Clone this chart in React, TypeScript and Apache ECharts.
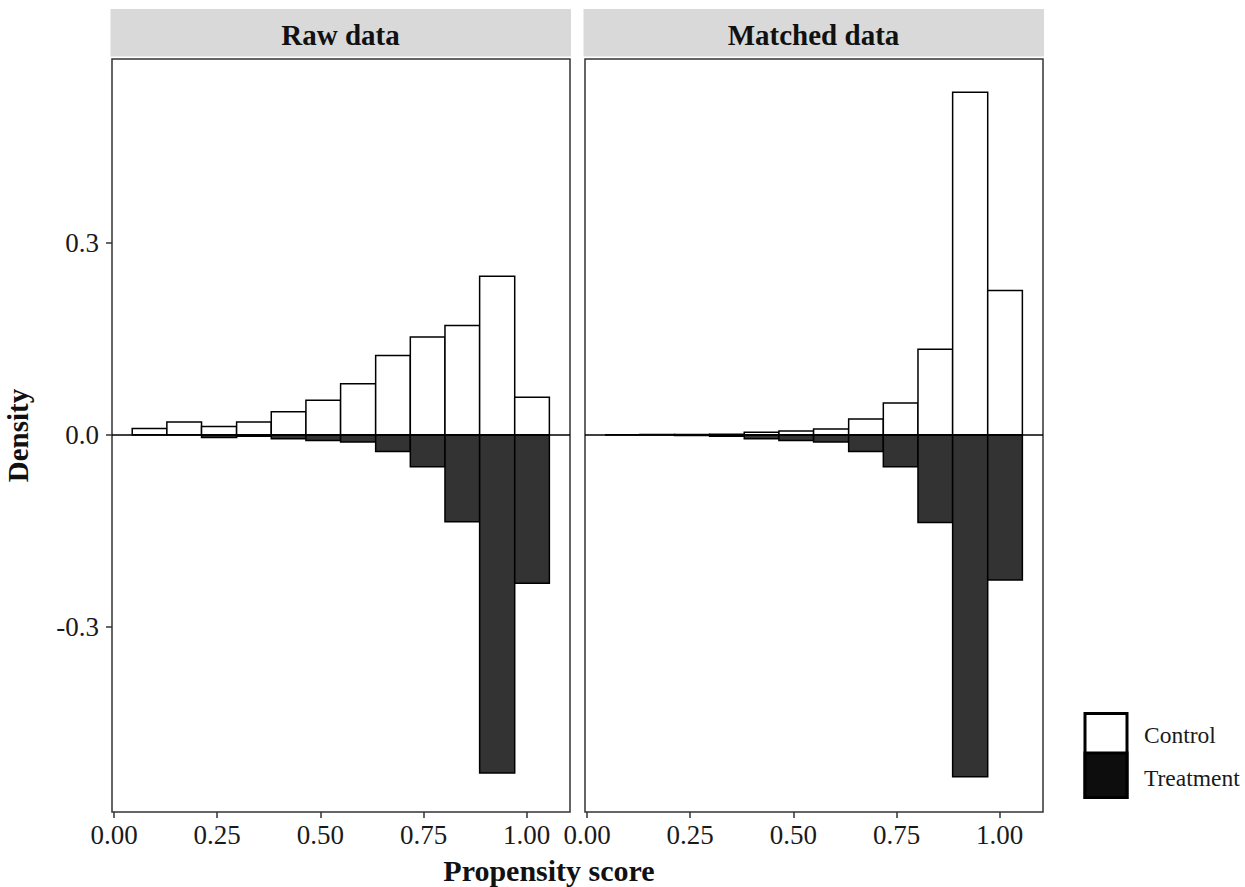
import React, { useEffect, useRef } from "react";
import * as echarts from "echarts";

const binEdges = [0.044, 0.128, 0.212, 0.297, 0.381, 0.465, 0.549, 0.634, 0.718, 0.802, 0.886, 0.971, 1.055];
const rawControl = [0.010, 0.020, 0.013, 0.020, 0.036, 0.054, 0.080, 0.124, 0.153, 0.171, 0.248, 0.059];
const rawTreatment = [0.0, 0.0, -0.004, -0.002, -0.006, -0.009, -0.011, -0.026, -0.050, -0.136, -0.529, -0.232];
const matchedControl = [0.0, 0.0005, 0.0005, 0.001, 0.004, 0.006, 0.009, 0.025, 0.050, 0.134, 0.536, 0.226];
const matchedTreatment = [0.0, 0.0, -0.001, -0.002, -0.006, -0.009, -0.011, -0.026, -0.050, -0.137, -0.535, -0.227];
const panelTitles = ["Raw data", "Matched data"];
const xTicks = [0, 0.25, 0.5, 0.75, 1.0];
const yTicks = [-0.3, 0, 0.3];
const legendLabels = ["Control", "Treatment"];

const FONT = "'Liberation Serif', 'Times New Roman', serif";
const CONTROL_FILL = "#ffffff";
const TREAT_FILL = "#333333";

function toBars(values: number[]) {
  return values.map((v, i) => [binEdges[i], binEdges[i + 1], v]);
}

export default function App() {
  const ref = useRef<HTMLDivElement>(null);
  useEffect(() => {
    if (!ref.current) return;
    const chart = echarts.init(ref.current, null, { renderer: "svg" });

    const renderItem = (fill: string) => (params: any, api: any) => {
      const x0 = api.value(0);
      const x1 = api.value(1);
      const y = api.value(2);
      const p0 = api.coord([x0, y]);
      const p1 = api.coord([x1, 0]);
      const top = Math.min(p0[1], p1[1]);
      const h = Math.abs(p1[1] - p0[1]);
      return {
        type: "rect",
        shape: { x: p0[0], y: top, width: p1[0] - p0[0], height: h },
        style: { fill, stroke: "#000", lineWidth: 1.5 },
      };
    };

    const grids = [
      { left: 112, top: 59, width: 458, height: 753 },
      { left: 585, top: 59, width: 458, height: 753 },
    ].map((g) => ({ ...g, show: true, borderColor: "#333", borderWidth: 1.5, backgroundColor: "#fff" }));

    const xAxes = [0, 1].map((i) => ({
      type: "value" as const,
      gridIndex: i,
      min: -0.005,
      max: 1.105,
      position: "bottom" as const,
      splitLine: { show: false },
      axisLine: { show: false, onZero: false },
      axisTick: { show: true, length: 6, lineStyle: { color: "#333", width: 1.5 }, customValues: xTicks },
      axisLabel: {
        show: true,
        customValues: xTicks,
        formatter: (v: number) => v.toFixed(2),
        fontFamily: FONT,
        fontSize: 27,
        color: "#1a1a1a",
        margin: 9,
      },
    }));

    const yAxes = [0, 1].map((i) => ({
      type: "value" as const,
      gridIndex: i,
      min: -0.59,
      max: 0.588,
      position: "left" as const,
      splitLine: { show: false },
      axisLine: { show: false, onZero: false },
      axisTick: { show: i === 0, length: 6, lineStyle: { color: "#333", width: 1.5 }, customValues: yTicks },
      axisLabel: {
        show: i === 0,
        customValues: yTicks,
        formatter: (v: number) => v.toFixed(1),
        fontFamily: FONT,
        fontSize: 27,
        color: "#1a1a1a",
        margin: 13,
      },
      name: i === 0 ? "Density" : "",
      nameLocation: "middle" as const,
      nameRotate: 90,
      nameGap: 80,
      nameTextStyle: { fontFamily: FONT, fontSize: 29, fontWeight: "bold" as const, color: "#111" },
    }));

    const panels = [
      [rawControl, rawTreatment],
      [matchedControl, matchedTreatment],
    ];

    const series: any[] = [];
    panels.forEach(([ctrl, trt], i) => {
      series.push({
        type: "custom",
        name: "Treatment" + i,
        xAxisIndex: i,
        yAxisIndex: i,
        clip: true,
        renderItem: renderItem(TREAT_FILL),
        data: toBars(trt),
        encode: { x: [0, 1], y: 2 },
      });
      series.push({
        type: "custom",
        name: "Control" + i,
        xAxisIndex: i,
        yAxisIndex: i,
        clip: true,
        renderItem: renderItem(CONTROL_FILL),
        data: toBars(ctrl),
        encode: { x: [0, 1], y: 2 },
        markLine: {
          silent: true,
          symbol: ["none", "none"],
          label: { show: false },
          lineStyle: { color: "#000", width: 1.5, type: "solid" },
          data: [{ yAxis: 0 }],
        },
      });
    });

    const graphic: any[] = [];
    [110.5, 583.5].forEach((x, i) => {
      graphic.push({
        type: "rect",
        shape: { x, y: 9, width: 460.5, height: 47.5 },
        style: { fill: "#d9d9d9" },
      });
      graphic.push({
        type: "text",
        x: x + 230,
        y: 35,
        style: {
          text: panelTitles[i],
          font: `bold 29px ${FONT}`,
          fill: "#111",
          textAlign: "center",
          textVerticalAlign: "middle",
        },
      });
    });
    graphic.push({
      type: "text",
      x: 549,
      y: 870,
      style: {
        text: "Propensity score",
        font: `bold 30px ${FONT}`,
        fill: "#111",
        textAlign: "center",
        textVerticalAlign: "middle",
      },
    });
    // legend
    graphic.push({
      type: "rect",
      shape: { x: 1085, y: 713.5, width: 42, height: 84 },
      style: { fill: "#fff", stroke: "#000", lineWidth: 3 },
    });
    graphic.push({
      type: "rect",
      shape: { x: 1085, y: 753, width: 42, height: 44.5 },
      style: { fill: "#0d0d0d", stroke: "#000", lineWidth: 3 },
    });
    legendLabels.forEach((t, i) => {
      graphic.push({
        type: "text",
        x: 1144,
        y: 735 + i * 43,
        style: {
          text: t,
          font: `23.5px ${FONT}`,
          fill: "#1a1a1a",
          textAlign: "left",
          textVerticalAlign: "middle",
        },
      });
    });

    chart.setOption({
      animation: false,
      backgroundColor: "#fff",
      grid: grids,
      xAxis: xAxes,
      yAxis: yAxes,
      series,
      graphic,
    });
    return () => chart.dispose();
  }, []);
  return (
    <div
      ref={ref}
      style={{ position: "absolute", left: 0, top: 0, width: 1245, height: 887 }}
    />
  );
}
